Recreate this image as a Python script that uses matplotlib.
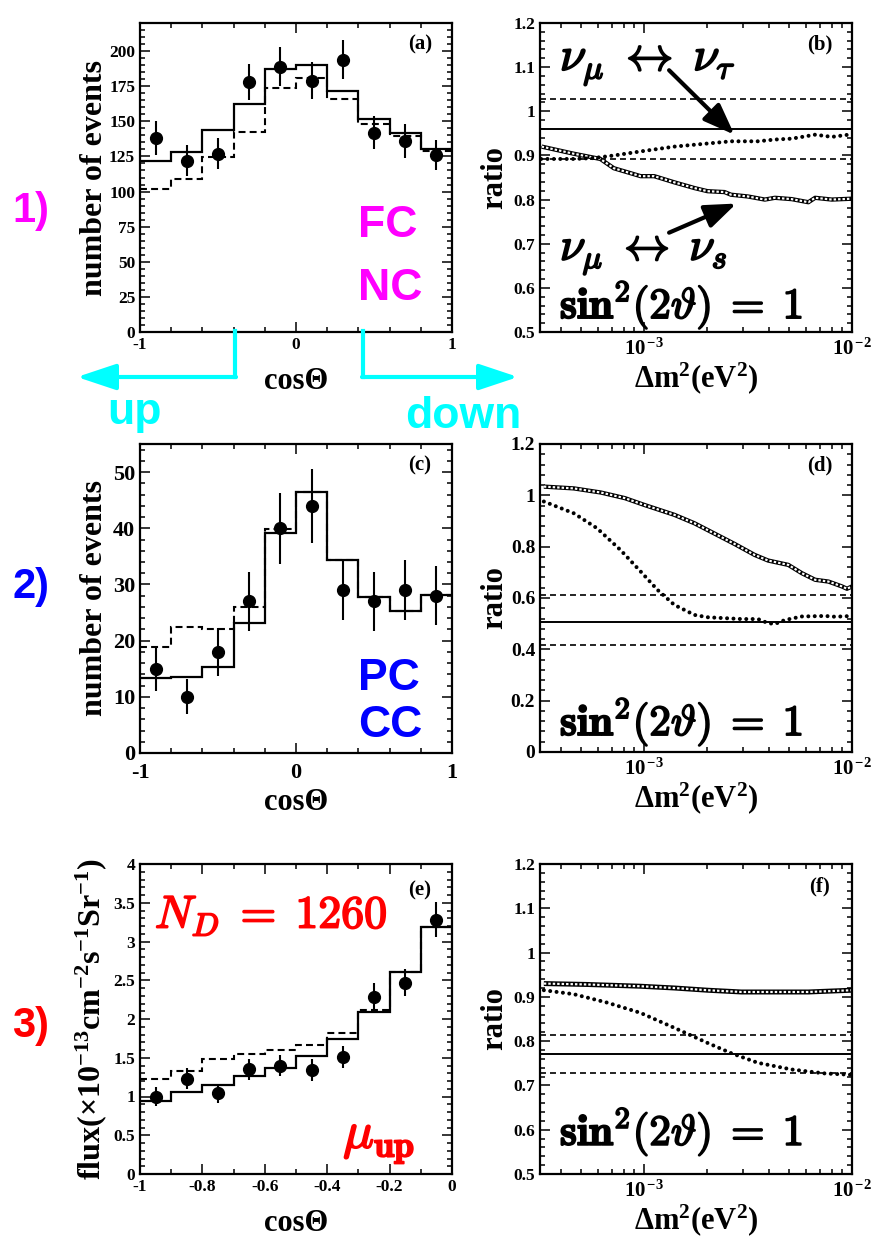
import numpy as np
import matplotlib
matplotlib.use("Agg")
import matplotlib.pyplot as plt
import matplotlib.patheffects as pe
from matplotlib.ticker import (FixedLocator, MultipleLocator, LogLocator,
                               FuncFormatter, NullFormatter)

W, H = 874, 1236
CYAN = "#00ffff"
MAGENTA = "#ff00ff"
BLUE = "#0000ff"
RED = "#ff0000"

plt.rcParams.update({
    "font.family": "Liberation Serif",
    "font.weight": "bold",
    "axes.labelweight": "bold",
    "axes.unicode_minus": False,
    "mathtext.fontset": "custom",
    "mathtext.rm": "Liberation Serif:bold",
    "mathtext.bf": "Liberation Serif:bold",
    "mathtext.it": "Liberation Serif:italic:bold",
    "mathtext.default": "bf",
    "lines.scale_dashes": False,
    "xtick.labelsize": 12.5,
    "ytick.labelsize": 12.5,
})

# ---------------- zenith angle distributions ----------------
cos_edges = [-1.0, -0.8, -0.6, -0.4, -0.2, 0.0, 0.2, 0.4, 0.6, 0.8, 1.0]
cos_centers = [-0.9, -0.7, -0.5, -0.3, -0.1, 0.1, 0.3, 0.5, 0.7, 0.9]

# FC, NC enriched sample
fc_data = [138, 122, 127, 178, 189, 179, 194, 142, 136, 126]
fc_err = [12, 11, 11, 13, 14, 13, 14, 12, 12, 11]
fc_tau = [121.4, 128.3, 144.1, 162.6, 187.5, 190.3, 171.6, 152.0, 141.8, 130.6]
fc_sterile = [101.8, 109.1, 124.7, 142.5, 173.7, 181.0, 165.7, 148.4, 139.6, 129.0]

# PC, CC sample
pc_data = [15, 10, 18, 27, 40, 44, 29, 27, 29, 28]
pc_err = [3.9, 3.1, 4.3, 5.2, 6.3, 6.6, 5.3, 5.2, 5.3, 5.2]
pc_tau = [13.4, 13.6, 15.3, 23.1, 39.2, 46.4, 34.3, 27.7, 25.3, 28.2]
pc_sterile = [18.9, 22.5, 22.1, 26.0, 39.8, 46.4, 34.3, 27.7, 25.3, 28.2]

# upward-going muons
mu_edges = [-1.0, -0.9, -0.8, -0.7, -0.6, -0.5, -0.4, -0.3, -0.2, -0.1, 0.0]
mu_centers = [-0.95, -0.85, -0.75, -0.65, -0.55, -0.45, -0.35, -0.25, -0.15, -0.05]
mu_data = [1.00, 1.23, 1.04, 1.35, 1.40, 1.34, 1.51, 2.29, 2.47, 3.28]
mu_err = [0.125, 0.135, 0.123, 0.138, 0.133, 0.14, 0.146, 0.172, 0.176, 0.224]
mu_tau = [0.946, 1.054, 1.144, 1.260, 1.368, 1.518, 1.746, 2.090, 2.606, 3.183]
mu_sterile = [1.230, 1.325, 1.484, 1.548, 1.604, 1.660, 1.819, 2.120, 2.606, 3.183]

# ---------------- up/down ratios vs dm^2 ----------------
# measured ratio: (central, upper, lower)
b_band = (0.960, 1.028, 0.892)
d_band = (0.508, 0.610, 0.415)
f_band = (0.771, 0.815, 0.727)

b_tau_dm2 = [3.2e-4, 4.6e-4, 5.7e-4, 7.2e-4, 9.6e-4, 1.40e-3, 2.02e-3, 2.62e-3,
             3.53e-3, 4.26e-3, 5.13e-3, 6.65e-3, 8.0e-3, 1.0e-2]
b_tau = [0.892, 0.892, 0.894, 0.900, 0.909, 0.920, 0.927, 0.932,
         0.932, 0.936, 0.938, 0.947, 0.942, 0.948]
b_s_dm2 = [3.22e-4, 4.58e-4, 6.17e-4, 7.16e-4, 9.64e-4, 1.12e-3, 1.40e-3, 1.75e-3,
           2.02e-3, 2.44e-3, 2.62e-3, 3.16e-3, 3.81e-3, 4.26e-3, 5.13e-3,
           6.17e-3, 6.65e-3, 8.0e-3, 1.0e-2]
b_s = [0.920, 0.904, 0.892, 0.871, 0.853, 0.853, 0.839, 0.826,
       0.819, 0.817, 0.811, 0.807, 0.800, 0.804, 0.801,
       0.794, 0.804, 0.800, 0.802]

d_s_dm2 = [3.3e-4, 4.6e-4, 6.2e-4, 8.1e-4, 1.0e-3, 1.40e-3, 1.75e-3, 2.17e-3, 2.72e-3,
           3.40e-3, 3.95e-3, 4.94e-3, 5.73e-3, 6.65e-3, 7.71e-3, 8.95e-3, 9.46e-3, 1.0e-2]
d_s = [1.034, 1.027, 1.011, 0.989, 0.963, 0.924, 0.891, 0.852, 0.811,
       0.768, 0.746, 0.729, 0.697, 0.671, 0.664, 0.645, 0.636, 0.645]
d_tau_dm2 = [3.3e-4, 4.6e-4, 5.94e-4, 7.71e-4, 9.64e-4, 1.16e-3, 1.40e-3, 1.75e-3, 2.02e-3,
             2.94e-3, 3.53e-3, 3.95e-3, 4.26e-3, 4.75e-3, 5.73e-3, 7.43e-3, 8.30e-3, 1.0e-2]
d_tau = [0.976, 0.930, 0.872, 0.787, 0.703, 0.632, 0.573, 0.534, 0.525,
         0.518, 0.518, 0.502, 0.499, 0.514, 0.528, 0.530, 0.527, 0.530]

f_s_dm2 = [3.3e-4, 5.3e-4, 9.6e-4, 1.40e-3, 2.02e-3, 2.94e-3, 4.26e-3, 6.17e-3, 1.0e-2]
f_s = [0.930, 0.928, 0.924, 0.920, 0.915, 0.911, 0.911, 0.911, 0.915]
f_tau_dm2 = [3.3e-4, 4.6e-4, 6.65e-4, 9.6e-4, 1.40e-3, 2.02e-3, 2.62e-3, 3.53e-3,
             5.13e-3, 7.43e-3, 1.0e-2]
f_tau = [0.915, 0.906, 0.887, 0.864, 0.830, 0.796, 0.773, 0.751, 0.736, 0.727, 0.724]


def px_axes(fig, left, top, right, bottom):
    return fig.add_axes([left / W, 1 - bottom / H, (right - left) / W, (bottom - top) / H])


def plain(v, pos):
    v = round(v, 6)
    if v == 0:
        return "0"
    return f"{v:g}"


def decade(v, pos):
    return r"$\mathbf{10}^{\,\mathbf{%d}}$" % round(np.log10(v))


def style(ax):
    ax.tick_params(which="both", direction="in", top=True, right=True, width=1.1, pad=3.5)
    ax.tick_params(which="major", length=7)
    ax.tick_params(which="minor", length=3.5)
    for s in ax.spines.values():
        s.set_linewidth(1.6)


def hist_panel(ax, edges, centers, data, err, solid, dashed, ylim, ymaj, ymin):
    ax.stairs(solid, edges, baseline=None, color="k", lw=1.6)
    ax.stairs(dashed, edges, baseline=None, color="k", lw=1.5, linestyle=(0, (5, 3)))
    ax.errorbar(centers, data, yerr=err, fmt="o", color="k", ms=8.5,
                elinewidth=1.5, capsize=0)
    ax.set_xlim(edges[0], edges[-1])
    ax.set_ylim(*ylim)
    ax.yaxis.set_major_locator(MultipleLocator(ymaj))
    ax.yaxis.set_minor_locator(MultipleLocator(ymin))
    ax.yaxis.set_major_formatter(FuncFormatter(plain))
    ax.xaxis.set_major_formatter(FuncFormatter(plain))
    style(ax)
    ax.set_xlabel("cosΘ", fontsize=22)
    ax.xaxis.set_label_coords(0.5, -0.113)


def ratio_panel(ax, band, s_x, s_y, t_x, t_y, ylim, ymaj, ymin, sq_lw=3.1):
    mid, hi, lo = band
    ax.axhline(mid, color="k", lw=1.4)
    ax.axhline(hi, color="k", lw=1.2, ls=(0, (4.3, 2.9)))
    ax.axhline(lo, color="k", lw=1.2, ls=(0, (4.3, 2.9)))
    # chain of open squares
    ax.plot(s_x, s_y, color="k", lw=sq_lw, solid_capstyle="butt")
    ax.plot(s_x, s_y, color="w", lw=1.55, dashes=(1.75, 1.45), dash_capstyle="butt")
    # dotted curve
    ax.plot(t_x, t_y, color="k", lw=2.9, dashes=(0.01, 4.6), dash_capstyle="round")
    ax.set_xscale("log")
    ax.set_xlim(10 ** -3.5, 1e-2)
    ax.set_ylim(*ylim)
    ax.xaxis.set_major_locator(FixedLocator([1e-3, 1e-2]))
    ax.xaxis.set_minor_locator(LogLocator(base=10, subs=np.arange(2, 10), numticks=20))
    ax.xaxis.set_minor_formatter(NullFormatter())
    ax.xaxis.set_major_formatter(FuncFormatter(decade))
    ax.yaxis.set_major_locator(MultipleLocator(ymaj))
    ax.yaxis.set_minor_locator(MultipleLocator(ymin))
    ax.yaxis.set_major_formatter(FuncFormatter(plain))
    style(ax)
    ax.tick_params(axis="x", which="major", pad=5, labelsize=15)
    ax.set_ylabel("ratio", fontsize=22)
    ax.yaxis.set_label_coords(-0.10, 0.5)
    ax.set_xlabel(r"Δm$^{2}$(eV$^{2}$)", fontsize=22)
    ax.xaxis.set_label_coords(0.5, -0.092)


def bold_math(color):
    return [pe.withStroke(linewidth=1.3, foreground=color)]


def sin_label(ax, y):
    ax.text(0.064, y, r"$\mathbf{sin}^{\mathbf{2}}(\mathbf{2}\vartheta)\;=\;\mathbf{1}$",
            transform=ax.transAxes, fontsize=31, math_fontfamily="cm",
            ha="left", va="baseline", path_effects=bold_math("k"))


def panel_tag(ax, s, y=0.929):
    ax.text(0.897, y, s, transform=ax.transAxes, fontsize=15,
            ha="center", va="center")


fig = plt.figure(figsize=(W / 100, H / 100), dpi=100)

# (a) FC NC
ax = px_axes(fig, 140, 23, 452, 332)
hist_panel(ax, cos_edges, cos_centers, fc_data, fc_err, fc_tau, fc_sterile,
           (0, 220), 25, 5)
ax.xaxis.set_major_locator(FixedLocator([-1, 0, 1]))
ax.xaxis.set_minor_locator(MultipleLocator(0.2))
ax.set_ylabel("number of events", fontsize=23)
ax.yaxis.set_label_coords(-0.10, 0.5)
panel_tag(ax, "(a)")
sans = dict(family="Liberation Sans", weight="bold", fontsize=32)
ax.text(0.699, 0.307, "FC", color=MAGENTA, transform=ax.transAxes, va="baseline", **sans)
ax.text(0.699, 0.104, "NC", color=MAGENTA, transform=ax.transAxes, va="baseline", **sans)

# (b)
ax = px_axes(fig, 540, 23, 852, 332)
ratio_panel(ax, b_band, b_s_dm2, b_s, b_tau_dm2, b_tau, (0.5, 1.2), 0.1, 0.02)
panel_tag(ax, "(b)")
ax.text(0.064, 0.846, r"$\nu_\mu\;\leftrightarrow\;\nu_\tau$", transform=ax.transAxes,
        fontsize=34, math_fontfamily="cm", ha="left", va="baseline",
        path_effects=bold_math("k"))
ax.text(0.064, 0.232, r"$\nu_\mu\;\leftrightarrow\;\nu_{\mathit{s}}$", transform=ax.transAxes,
        fontsize=33, math_fontfamily="cm", ha="left", va="baseline",
        path_effects=bold_math("k"))
arrow = dict(arrowstyle="-|>,head_length=0.95,head_width=0.36", color="k", lw=3,
             mutation_scale=20, shrinkA=0, shrinkB=0)
ax.annotate("", xy=(2.72e-3, 0.947), xytext=(1.32e-3, 1.093), arrowprops=arrow)
ax.annotate("", xy=(2.78e-3, 0.791), xytext=(1.32e-3, 0.725), arrowprops=arrow)
sin_label(ax, 0.045)

# (c) PC CC
ax = px_axes(fig, 140, 444, 452, 753)
hist_panel(ax, cos_edges, cos_centers, pc_data, pc_err, pc_tau, pc_sterile,
           (0, 55), 10, 2)
ax.xaxis.set_major_locator(FixedLocator([-1, 0, 1]))
ax.xaxis.set_minor_locator(MultipleLocator(0.2))
ax.tick_params(axis="both", labelsize=16)
ax.tick_params(axis="x", pad=7)
ax.set_ylabel("number of events", fontsize=23)
ax.yaxis.set_label_coords(-0.10, 0.5)
panel_tag(ax, "(c)")
ax.text(0.699, 0.204, "PC", color=BLUE, transform=ax.transAxes, va="baseline", **sans)
ax.text(0.699, 0.052, "CC", color=BLUE, transform=ax.transAxes, va="baseline", **sans)

# (d)
ax = px_axes(fig, 540, 444, 852, 752)
ratio_panel(ax, d_band, d_s_dm2, d_s, d_tau_dm2, d_tau, (0, 1.2), 0.2, 0.04)
ax.tick_params(axis="y", labelsize=14)
panel_tag(ax, "(d)")
sin_label(ax, 0.055)

# (e) upward muons
ax = px_axes(fig, 140, 864, 452, 1174)
hist_panel(ax, mu_edges, mu_centers, mu_data, mu_err, mu_tau, mu_sterile,
           (0, 4), 0.5, 0.1)
ax.xaxis.set_major_locator(MultipleLocator(0.2))
ax.xaxis.set_minor_locator(MultipleLocator(0.1))
ax.set_ylabel(r"flux(×10$^{-13}$cm$^{-2}$s$^{-1}$Sr$^{-1}$)", fontsize=23)
ax.yaxis.set_label_coords(-0.10, 0.5)
panel_tag(ax, "(e)", 0.916)
ax.text(0.048, 0.794, r"$\mathit{N}_{\mathit{D}}\;=\;\mathbf{1260}$", color=RED,
        transform=ax.transAxes, fontsize=33, math_fontfamily="cm",
        ha="left", va="baseline", path_effects=bold_math(RED))
ax.text(0.651, 0.084, r"$\mu_{\mathbf{up}}$", color=RED,
        transform=ax.transAxes, fontsize=37, math_fontfamily="cm",
        ha="left", va="baseline", path_effects=bold_math(RED))

# (f)
ax = px_axes(fig, 540, 864, 852, 1174)
ratio_panel(ax, f_band, f_s_dm2, f_s, f_tau_dm2, f_tau, (0.5, 1.2), 0.1, 0.02, sq_lw=3.6)
panel_tag(ax, "(f)")
sin_label(ax, 0.094)

# row numbers and up/down arrows in figure pixels
ov = fig.add_axes([0, 0, 1, 1])
ov.set_xlim(0, W)
ov.set_ylim(H, 0)
ov.axis("off")
ov.patch.set_visible(False)
row = dict(family="Liberation Sans", weight="bold", fontsize=30, ha="left", va="center")
ov.text(12, 211, "1)", color=MAGENTA, **row)
ov.text(12, 587, "2)", color=BLUE, **row)
ov.text(12, 1026, "3)", color=RED, **row)

cyan_arrow = dict(arrowstyle="-|>,head_length=1.2,head_width=0.4", color=CYAN, lw=3,
                  mutation_scale=20, shrinkA=0, shrinkB=0)
ov.plot([235, 235], [331, 377], color=CYAN, lw=3, solid_capstyle="projecting")
ov.annotate("", xy=(77, 377), xytext=(236, 377), arrowprops=cyan_arrow)
ov.plot([363, 363], [331, 377], color=CYAN, lw=3, solid_capstyle="projecting")
ov.annotate("", xy=(518, 377), xytext=(362, 377), arrowprops=cyan_arrow)
ov.text(107, 424, "up", color=CYAN, family="Liberation Sans", weight="bold",
        fontsize=32, ha="left", va="baseline")
ov.text(405, 428, "down", color=CYAN, family="Liberation Sans", weight="bold",
        fontsize=32, ha="left", va="baseline")

fig.savefig("out.png", dpi=100)
